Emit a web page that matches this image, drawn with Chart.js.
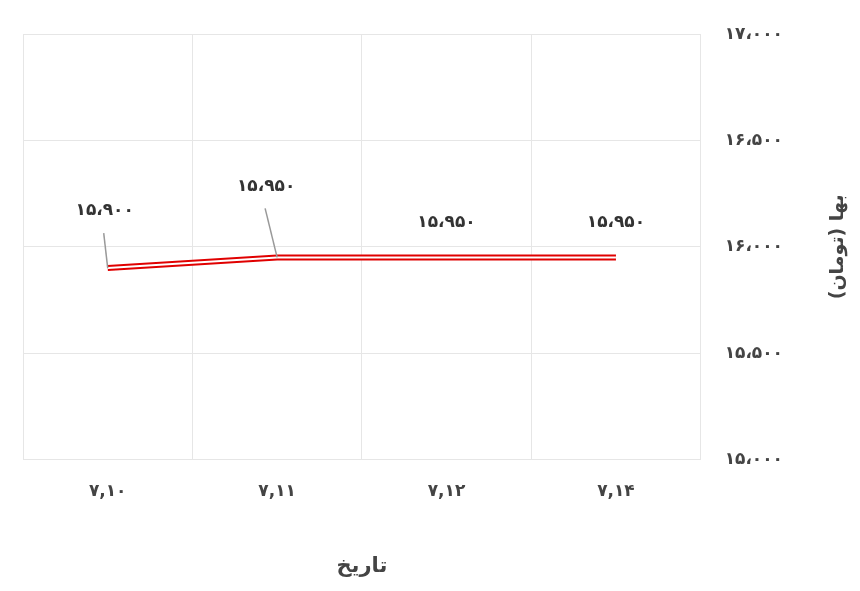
<!DOCTYPE html>
<html><head><meta charset="utf-8">
<script src="https://cdn.jsdelivr.net/npm/chart.js@4"></script>
<style>html,body{margin:0;background:#fff}#w{width:860px;height:591px;position:relative}</style>
</head><body><div id="w"><canvas id="c" dir="rtl"></canvas></div>
<script>
const categories = ['۷,۱۰','۷,۱۱','۷,۱۲','۷,۱۴'];
const prices = [15900, 15950, 15950, 15950];
const priceLabels = ['۱۵،۹۰۰','۱۵،۹۵۰','۱۵،۹۵۰','۱۵،۹۵۰'];
const yTicks = {15000:'۱۵،۰۰۰',15500:'۱۵،۵۰۰',16000:'۱۶،۰۰۰',16500:'۱۶،۵۰۰',17000:'۱۷،۰۰۰'};
const yTitle = 'بها (تومان)';
const FONT = '"DejaVu Sans", sans-serif';

const labelPlugin = {
  id:'lbls',
  afterDatasetsDraw(chart){
    const ctx = chart.ctx, meta = chart.getDatasetMeta(0), a = chart.chartArea;
    ctx.save();
    ctx.font = 'bold 17px '+FONT;
    ctx.textAlign='center'; ctx.textBaseline='middle'; ctx.fillStyle='#333';
    meta.data.forEach((p,i)=>{
      if(i<2){
        const lx = p.x - (i===0?3:11), ly = p.y - (i===0?57:71);
        ctx.strokeStyle='#999'; ctx.lineWidth=1.5;
        ctx.beginPath(); ctx.moveTo(lx-1, ly+22); ctx.lineTo(p.x, p.y); ctx.stroke();
        ctx.fillText(priceLabels[i], lx, ly);
      } else {
        ctx.fillText(priceLabels[i], p.x, p.y-35);
      }
    });
    ctx.translate(838, (a.top+a.bottom)/2);
    ctx.rotate(-Math.PI/2);
    ctx.font = 'bold 19px '+FONT; ctx.fillStyle='#444';
    ctx.fillText(yTitle, 0, 0);
    ctx.restore();
  }
};

new Chart(document.getElementById('c'),{
  type:'line',
  data:{labels:categories,datasets:[
    {data:prices,borderColor:'#e00000',borderWidth:6,pointRadius:0,tension:0,order:2},
    {data:prices,borderColor:'#ffffff',borderWidth:2,pointRadius:0,tension:0,order:1}
  ]},
  options:{
    responsive:true,maintainAspectRatio:false,animation:false,
    layout:{padding:{left:23,top:12,right:53,bottom:8}},
    plugins:{legend:{display:false},tooltip:{enabled:false}},
    scales:{
      x:{offset:true,grid:{offset:true,color:'#e6e6e6',drawTicks:false},border:{color:'#e6e6e6'},
        ticks:{padding:22,color:'#444',font:{size:17,weight:'bold',family:FONT}},
        title:{display:true,text:'تاریخ',color:'#444',padding:{top:30},font:{size:21,weight:'bold',family:FONT}}},
      y:{position:'right',min:15000,max:17000,
        grid:{color:'#e6e6e6',drawTicks:false},border:{display:false},
        afterBuildTicks(s){s.ticks=Object.keys(yTicks).map(v=>({value:+v}));},
        ticks:{padding:24,color:'#444',font:{size:17,weight:'bold',family:FONT},callback:v=>yTicks[v]}}
    }
  },
  plugins:[labelPlugin]
});
</script></body></html>
